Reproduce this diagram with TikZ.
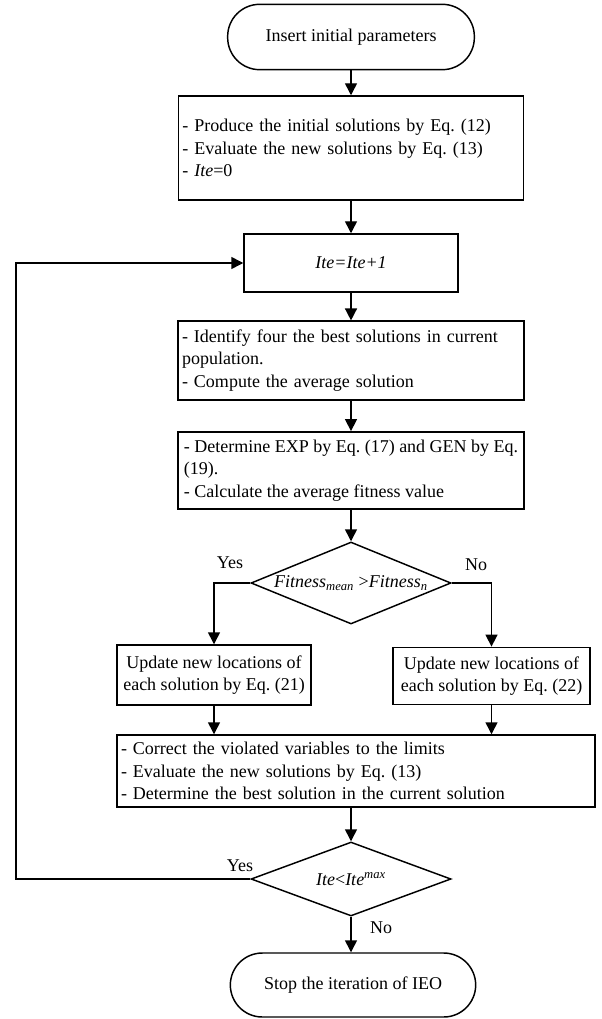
\documentclass[tikz,border=0pt]{standalone}
\usepackage{fontspec}
\setmainfont{Liberation Serif}
\usetikzlibrary{arrows.meta,shapes.geometric}
\frenchspacing

\begin{document}
\begin{tikzpicture}[x=0.75pt,y=-0.75pt,>={Triangle[length=9pt,width=9pt]},line width=1.1pt,
                    every node/.style={font=\fontsize{13.5}{17}\selectfont},
                    term/.style={draw,rectangle,rounded corners=24pt,minimum width=185pt,minimum height=49pt},
                    proc/.style={draw,rectangle,align=left,inner xsep=3pt},
                    cond/.style={draw,diamond,inner sep=0pt,minimum width=150pt},
                    lbl/.style={inner sep=1pt}]
  \useasboundingbox (0,0) rectangle (602,1019);

  \node[term] (start) at (351,37)  {Insert initial parameters};
  \node[proc,minimum width=259pt,minimum height=78pt,text width=253pt] (init) at (351,148)
       {- Produce the initial solutions by Eq. (12)\\
        - Evaluate the new solutions by Eq. (13)\\
        - \textit{Ite}=0};
  \node[proc,align=center,minimum width=160.5pt,minimum height=43.5pt] (iter) at (351,263) {\textit{Ite=Ite+1}};
  \node[proc,minimum width=259.5pt,minimum height=59pt,text width=253.5pt] (best) at (351,360.5)
       {- Identify four the best solutions in current\\
        population.\\
        - Compute the average solution};
  \node[proc,minimum width=259.5pt,minimum height=58pt] (gen) at (351,470.5)
       {- Determine EXP by Eq. (17) and GEN by Eq.\\
        (19).\\
        - Calculate the average fitness value};
  \node[cond,minimum height=61.5pt,
        label={center:\textit{Fitness}\textsubscript{\textit{mean}} >\textit{Fitness}\textsubscript{\textit{n}}}] (fit) at (351,583) {};
  \node[proc,align=center,minimum width=145.5pt,minimum height=45pt] (upa) at (214,675)
       {Update new locations of\\ each solution by Eq. (21)};
  \node[proc,align=center,minimum width=148pt,minimum height=43pt] (upb) at (491.5,676)
       {Update new locations of\\ each solution by Eq. (22)};
  \node[proc,minimum width=358.5pt,minimum height=54pt,text width=352.5pt] (corr) at (356,771)
       {- Correct the violated variables to the limits\\
        - Evaluate the new solutions by Eq. (13)\\
        - Determine the best solution in the current solution};
  \node[cond,minimum height=55.5pt,
        label={center:\textit{Ite}<\textit{Ite}\textsuperscript{\textit{max}}}] (stopq) at (351,879) {};
  \node[term,minimum width=184pt,minimum height=48pt] (stop) at (353,985) {Stop the iteration of IEO};

  \coordinate (loop) at (16,879);

  \node[lbl] (yesa) at (230,563) {Yes};
  \node[lbl] (noa)  at (476,565) {No};
  \node[lbl] (yesb) at (240,866) {Yes};
  \node[lbl] (nob)  at (381,928) {No};

  \draw[->] (start) edge (init)
            (init)  edge (iter)
            (iter)  edge (best)
            (best)  edge (gen)
            (gen)   edge (fit)
            (stopq) edge (stopq |- stop.north);
  \draw[->] (stopq |- corr.south) -- (stopq);
  \draw[->] (fit.west) -| (upa.north);
  \draw[->] (fit.east) -| (upb.north);
  \draw[->] (upa.south) -- (upa.south |- corr.north);
  \draw[->] (upb.south) -- (upb.south |- corr.north);
  \draw[->] (stopq.west) -- (loop) |- (iter.west);
\end{tikzpicture}
\end{document}
